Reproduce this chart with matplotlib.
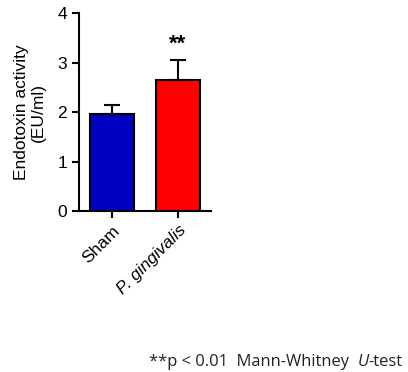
import matplotlib
matplotlib.use("Agg")
import matplotlib.pyplot as plt

categories = ["Sham", "P. gingivalis"]
means = [1.96, 2.65]
errors = [0.18, 0.41]
colors = ["#0000c0", "#ff0000"]
yticks = [0, 1, 2, 3, 4]

plt.rcParams['font.family'] = ['Liberation Sans', 'DejaVu Sans']
fig = plt.figure(figsize=(4.08, 3.72), dpi=100)
ax = fig.add_axes([79/408, 1-211/372, 132/408, 198/372])
x = list(range(len(categories)))
ax.bar(x, means, width=0.667, color=colors, edgecolor="black", linewidth=1.5,
       yerr=[[0, 0], errors], error_kw=dict(ecolor="black", elinewidth=1.5, capsize=6, capthick=1.5), zorder=2)
ax.set_xlim(-0.5, 1.5)
ax.set_ylim(0, 4)
ax.set_yticks(yticks)
ax.set_xticks(x)
ax.set_xticklabels(categories, rotation=45, ha="right", rotation_mode="anchor", fontsize=11.5)
ax.get_xticklabels()[1].set_style("italic")
for s in ["top", "right"]:
    ax.spines[s].set_visible(False)
for s in ["left", "bottom"]:
    ax.spines[s].set_linewidth(1.5)
ax.tick_params(width=1.5, length=5, labelsize=12.5)
ax.set_ylabel("Endotoxin activity\n(EU/ml)", fontsize=12.5, labelpad=8)
ax.text(1, means[1] + errors[1] + 0.3, "**", ha="center", va="center", fontsize=16, fontweight="bold")

fig.canvas.draw()
r = fig.canvas.get_renderer()
yf = 1 - 366/372
parts = [("**p < 0.01  Mann-Whitney  ", "normal"), ("U", "italic"), ("-test", "normal")]

def place(fs):
    xpos = 149
    made = []
    for txt, st in parts:
        t = fig.text(xpos/408, yf, txt, fontsize=fs, va="baseline", ha="left", style=st,
                     family="Open Sans", color="#222222")
        bb = t.get_window_extent(renderer=r)
        xpos += bb.width
        made.append(t)
    return made, xpos - 149

made, w = place(12)
for t in made:
    t.remove()
fs = min(13, 12 * 254 / w)
place(fs)
fig.savefig("out.png", dpi=100)
